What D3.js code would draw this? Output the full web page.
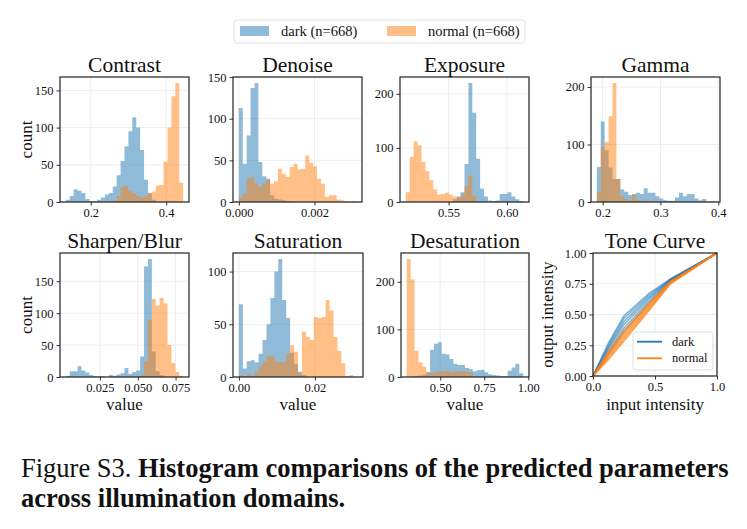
<!DOCTYPE html>
<html>
<head>
<meta charset="utf-8">
<script src="https://cdn.jsdelivr.net/npm/d3@7"></script>
<style>
  body { margin: 0; background: #fff; }
  text { font-family: "Liberation Serif", "Times New Roman", serif; fill: #111; }
</style>
</head>
<body>
<script>
// ---- data ----
const titles = ["Contrast", "Denoise", "Exposure", "Gamma", "Sharpen/Blur", "Saturation", "Desaturation"];
const seriesNames = ["dark (n=668)", "normal (n=668)"];

// 30 shared bins per panel, from binLo to binHi
const binLo = [0.134, 0.0, 0.5135, 0.19, 0.0025, 0.0, 0.3104];
const binHi = [0.445, 0.0031, 0.6138, 0.3929, 0.080, 0.0311, 0.971];

const darkCounts = [
  [3,8,17,15,12,4,1,1,3,6,10,12,21,36,55,75,95,114,100,70,30,12,3,0,0,0,0,0,0,0],
  [113,46,80,137,143,48,31,28,8,4,3,2,1,1,0,0,0,0,0,0,0,0,0,0,0,0,0,0,0,0],
  [0,0,0,0,0,0,0,0,0,0,0,0,5,10,18,70,220,165,80,25,10,3,2,3,15,15,18,10,5,2],
  [61,140,90,60,40,40,22,18,12,14,16,14,24,16,16,10,6,3,2,2,8,16,10,14,14,6,3,5,1,1],
  [2,9,9,17,10,7,3,1,1,1,0,3,2,4,6,14,5,8,10,32,173,185,40,9,3,0,0,0,0,0],
  [69,8,15,16,14,22,35,50,75,100,112,73,56,23,12,5,2,0,0,0,0,0,0,0,0,0,0,0,0,0],
  [0,0,2,3,5,10,57,70,73,49,47,38,28,25,25,19,17,12,14,15,10,6,4,3,2,2,13,20,28,8]
];
const normalCounts = [
  [0,0,0,0,0,0,0,0,0,0,0,0,2,8,20,22,15,12,8,6,8,12,14,22,23,54,100,142,160,26],
  [5,10,28,30,22,18,22,27,22,25,40,34,30,42,46,39,40,56,47,43,28,22,6,8,8,3,2,1,0,1],
  [18,83,112,105,74,57,40,23,14,15,17,14,10,8,12,30,49,12,2,0,0,0,0,0,0,0,0,0,0,0],
  [17,95,104,149,207,40,10,5,3,12,3,2,2,2,1,1,0,0,0,0,0,0,0,0,0,0,0,0,0,0],
  [0,0,0,0,0,0,0,0,0,0,0,0,0,0,0,0,0,0,0,3,25,90,122,112,124,115,50,22,8,2],
  [2,1,3,1,5,10,15,20,20,15,14,14,22,30,24,3,43,38,35,57,56,57,73,63,38,25,13,1,2,0],
  [248,205,55,31,22,10,8,10,12,12,13,10,11,12,12,11,10,0,0,0,0,0,0,0,0,0,0,0,0,0]
];

const xTicks = [[0.2, 0.4], [0, 0.002], [0.55, 0.60], [0.2, 0.3, 0.4], [0.025, 0.050, 0.075], [0, 0.02], [0.50, 0.75, 1.00]];
const xTickFmt = [".1f", ".3f", ".2f", ".1f", ".3f", ".2f", ".2f"];
const yTicks = [[0, 50, 100, 150], [0, 50, 100, 150], [0, 100, 200], [0, 100, 200], [0, 50, 100, 150], [0, 50, 100], [0, 100, 200]];

// tone curve panel
const toneX = [0, 0.125, 0.25, 0.45, 0.625, 1];
const toneDark = [
  [0, 0.27, 0.49, 0.67, 0.79, 1],
  [0, 0.25, 0.47, 0.655, 0.787, 1],
  [0, 0.235, 0.445, 0.64, 0.783, 1],
  [0, 0.22, 0.42, 0.625, 0.78, 1],
  [0, 0.2, 0.39, 0.605, 0.775, 1],
  [0, 0.18, 0.36, 0.585, 0.77, 1]
];
const toneNormal = [
  [0, 0.2, 0.37, 0.59, 0.77, 1],
  [0, 0.18, 0.345, 0.575, 0.765, 1],
  [0, 0.165, 0.325, 0.56, 0.76, 1],
  [0, 0.15, 0.305, 0.545, 0.755, 1],
  [0, 0.135, 0.285, 0.53, 0.75, 1]
];
const toneTicksX = [0, 0.5, 1.0];
const toneTicksY = [0, 0.25, 0.5, 0.75, 1.0];

const captionPlain = "Figure S3. ";
const captionBold1 = "Histogram comparisons of the predicted parameters";
const captionBold2 = "across illumination domains.";

// ---- layout ----
const boxes = [
  [60, 77, 189, 202], [233, 77, 362, 202], [400, 77, 529, 202], [591, 77, 720, 202],
  [60, 253, 189, 377], [233, 253, 363, 377], [401, 253, 529, 377], [593, 253, 717, 376]
];
const blue = "#1f77b4", orange = "#ff7f0e";
const tickFont = "12.5px", titleFont = "21.5px", labelFont = "17px";

const svg = d3.select("body").append("svg")
  .attr("width", 747).attr("height", 529);

function drawAxes(g, x, y, box, xt, yt, xfmt, yfmt) {
  const [x0, y0, x1, y1] = box;
  // grid
  g.append("g").selectAll("line").data(xt).join("line")
    .attr("x1", d => x(d)).attr("x2", d => x(d))
    .attr("y1", y0).attr("y2", y1)
    .attr("stroke", "#e8e8e8").attr("stroke-width", 0.8);
  g.append("g").selectAll("line").data(yt).join("line")
    .attr("x1", x0).attr("x2", x1)
    .attr("y1", d => y(d)).attr("y2", d => y(d))
    .attr("stroke", "#e8e8e8").attr("stroke-width", 0.8);

  const xa = g.append("g").attr("transform", `translate(0,${y1})`)
    .call(d3.axisBottom(x).tickValues(xt).tickFormat(d3.format(xfmt))
      .tickSize(3.5).tickPadding(3).tickSizeOuter(0));
  const ya = g.append("g").attr("transform", `translate(${x0},0)`)
    .call(d3.axisLeft(y).tickValues(yt).tickFormat(d3.format(yfmt))
      .tickSize(3.5).tickPadding(3).tickSizeOuter(0));
  [xa, ya].forEach(a => {
    a.select(".domain").remove();
    a.selectAll("line").attr("stroke", "#333");
    a.selectAll("text").style("font-size", tickFont)
      .style("font-family", '"Liberation Serif", serif').attr("fill", "#111");
  });
}

function frame(g, box) {
  const [x0, y0, x1, y1] = box;
  g.append("rect").attr("x", x0).attr("y", y0)
    .attr("width", x1 - x0).attr("height", y1 - y0)
    .attr("fill", "none").attr("stroke", "#222").attr("stroke-width", 1.2);
}

function title(g, box, t) {
  g.append("text").attr("x", (box[0] + box[2]) / 2).attr("y", box[1] - 5.5)
    .attr("text-anchor", "middle").style("font-size", titleFont).text(t);
}

// ---- histogram panels ----
titles.forEach((t, i) => {
  const box = boxes[i];
  const g = svg.append("g");
  const lo = binLo[i], hi = binHi[i], R = hi - lo;
  const x = d3.scaleLinear().domain([lo - 0.05 * R, hi + 0.05 * R]).range([box[0], box[2]]);
  const yMax = 1.05 * d3.max(darkCounts[i].concat(normalCounts[i]));
  const y = d3.scaleLinear().domain([0, yMax]).range([box[3], box[1]]);
  const edges = d3.range(31).map(k => lo + k * R / 30);

  drawAxes(g, x, y, box, xTicks[i], yTicks[i], xTickFmt[i], "d");

  const area = d3.area().curve(d3.curveStepAfter)
    .x(d => x(d[0])).y0(y(0)).y1(d => y(d[1]));
  [[darkCounts[i], blue], [normalCounts[i], orange]].forEach(([counts, col]) => {
    const pts = counts.map((c, k) => [edges[k], c]);
    pts.push([edges[30], counts[29]]);
    g.append("path").attr("d", area(pts)).attr("fill", col).attr("fill-opacity", 0.5);
  });

  frame(g, box);
  title(g, box, t);
});

// ---- tone curve panel ----
{
  const box = boxes[7];
  const g = svg.append("g");
  const x = d3.scaleLinear().domain([0, 1]).range([box[0], box[2]]);
  const y = d3.scaleLinear().domain([0, 1]).range([box[3], box[1]]);
  drawAxes(g, x, y, box, toneTicksX, toneTicksY, ".1f", ".2f");
  const line = d3.line().x((d, k) => x(toneX[k])).y(d => y(d));
  toneDark.forEach(c => g.append("path").attr("d", line(c)).attr("fill", "none")
    .attr("stroke", blue).attr("stroke-width", 1.6).attr("stroke-opacity", 0.55));
  toneNormal.forEach(c => g.append("path").attr("d", line(c)).attr("fill", "none")
    .attr("stroke", orange).attr("stroke-width", 1.6).attr("stroke-opacity", 0.7));
  frame(g, box);
  title(g, box, "Tone Curve");

  // legend
  const lg = g.append("g");
  lg.append("rect").attr("x", 633).attr("y", 332).attr("width", 80).attr("height", 38)
    .attr("rx", 3).attr("fill", "#fff").attr("fill-opacity", 0.85)
    .attr("stroke", "#d5d5d5").attr("stroke-width", 0.8);
  [["dark", blue], ["normal", orange]].forEach(([name, col], k) => {
    const yy = 341.7 + k * 16.6;
    lg.append("line").attr("x1", 637).attr("x2", 662).attr("y1", yy).attr("y2", yy)
      .attr("stroke", col).attr("stroke-width", 1.8);
    lg.append("text").attr("x", 672).attr("y", yy + 4).style("font-size", "12.5px").text(name);
  });

  g.append("text").attr("x", (box[0] + box[2]) / 2).attr("y", 410)
    .attr("text-anchor", "middle").style("font-size", labelFont).text("input intensity");
  g.append("text").attr("transform", `translate(553,${(box[1] + box[3]) / 2}) rotate(-90)`)
    .attr("text-anchor", "middle").style("font-size", labelFont).text("output intensity");
}

// axis labels
[0, 4].forEach(i => {
  svg.append("text").attr("transform", `translate(32,${(boxes[i][1] + boxes[i][3]) / 2}) rotate(-90)`)
    .attr("text-anchor", "middle").style("font-size", labelFont).text("count");
});
[4, 5, 6].forEach(i => {
  svg.append("text").attr("x", (boxes[i][0] + boxes[i][2]) / 2).attr("y", 410)
    .attr("text-anchor", "middle").style("font-size", labelFont).text("value");
});

// top legend
{
  const lg = svg.append("g");
  lg.append("rect").attr("x", 234).attr("y", 20).attr("width", 291).attr("height", 23)
    .attr("rx", 3).attr("fill", "#fff").attr("stroke", "#dcdcdc").attr("stroke-width", 0.8);
  const px = [240, 387];
  [blue, orange].forEach((col, k) => {
    lg.append("rect").attr("x", px[k]).attr("y", 26).attr("width", 29).attr("height", 10)
      .attr("fill", col).attr("fill-opacity", 0.5);
    lg.append("text").attr("x", px[k] + 41).attr("y", 36).style("font-size", "14.5px").text(seriesNames[k]);
  });
}

// caption
const cap = svg.append("g").style("font-size", "26.5px");
const l1 = cap.append("text").attr("x", 21).attr("y", 477);
l1.append("tspan").text(captionPlain);
l1.append("tspan").attr("font-weight", "bold").text(captionBold1);
cap.append("text").attr("x", 21).attr("y", 507).attr("font-weight", "bold").text(captionBold2);
</script>
</body>
</html>
